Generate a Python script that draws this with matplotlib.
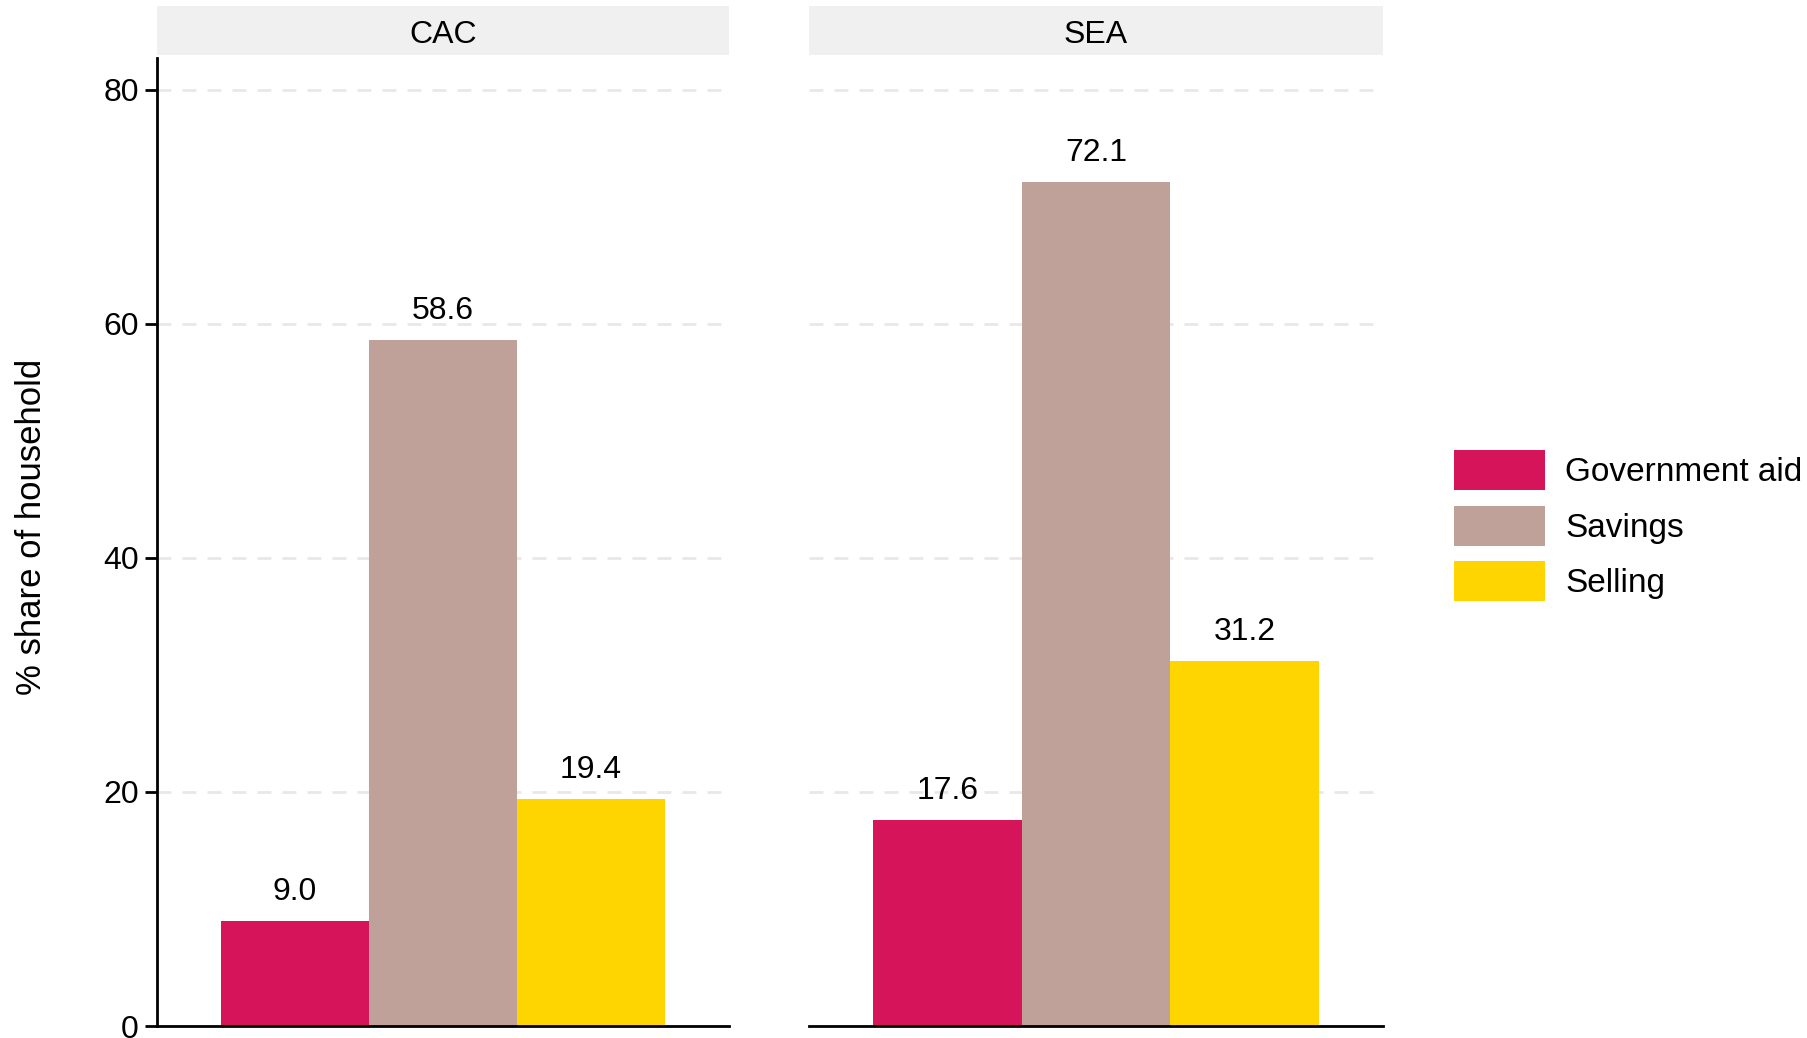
import matplotlib
matplotlib.use("Agg")
import matplotlib.pyplot as plt
from matplotlib import font_manager
from matplotlib.patches import Patch

# ---------------------------
# Data
# ---------------------------
regions = ["CAC", "SEA"]
sources = ["Government aid", "Savings", "Selling"]
gov_aid = [9.0, 17.6]
savings = [58.6, 72.1]
selling = [19.4, 31.2]
colors = ["#D6145A", "#BFA19A", "#FFD500"]

# pick a condensed font if available
names = {f.name for f in font_manager.fontManager.ttflist}
family = ["Liberation Sans Narrow", "DejaVu Sans"] if "Liberation Sans Narrow" in names else ["Liberation Sans", "DejaVu Sans"]
plt.rcParams["font.family"] = family

W, H = 1807, 1038
fig = plt.figure(figsize=(W / 100, H / 100), dpi=100)

panels = [(157, 729), (809, 1383)]
ax_top, ax_bot = 58, 1026
strip_top, strip_bot = 6, 55
FS = 23

values = list(zip(gov_aid, savings, selling))
bar_w = 0.3
offsets = [-bar_w, 0, bar_w]

for i, (region, (x0, x1)) in enumerate(zip(regions, panels)):
    ax = fig.add_axes([x0 / W, 1 - ax_bot / H, (x1 - x0) / W, (ax_bot - ax_top) / H])
    for j, v in enumerate(values[i]):
        ax.bar(offsets[j], v, width=bar_w, color=colors[j], zorder=2)
        ax.text(offsets[j], v + 1.2, f"{v:.1f}", ha="center", va="bottom", fontsize=FS)
    ax.set_xlim(-0.58, 0.58)
    ax.set_ylim(0, 82.7)
    ax.set_yticks([0, 20, 40, 60, 80])
    ax.yaxis.grid(True, color="#e8e8e8", linestyle=(0, (5, 4)), linewidth=2, zorder=0)
    ax.set_xticks([])
    for s in ["top", "right"]:
        ax.spines[s].set_visible(False)
    ax.spines["bottom"].set_linewidth(2)
    ax.spines["left"].set_linewidth(2)
    if i == 0:
        ax.tick_params(axis="y", length=9, width=2, labelsize=FS, pad=4)
    else:
        ax.spines["left"].set_visible(False)
        ax.tick_params(axis="y", length=0, labelleft=False)

    sax = fig.add_axes([x0 / W, 1 - strip_bot / H, (x1 - x0) / W, (strip_bot - strip_top) / H])
    sax.set_facecolor("#f0f0f0")
    sax.set_xticks([])
    sax.set_yticks([])
    for s in sax.spines.values():
        s.set_visible(False)
    sax.text(0.5, 0.40, region, ha="center", va="center", fontsize=FS, transform=sax.transAxes)

fig.text(32 / W, 1 - 527 / H, "% share of household", rotation=90, ha="center", va="center", fontsize=25)

handles = [Patch(facecolor=c, edgecolor="none") for c in colors]
fig.legend(handles, sources, loc="upper left", bbox_to_anchor=(1454 / W, 1 - 450 / H),
           frameon=False, fontsize=24, handlelength=2.74, handleheight=1.48,
           labelspacing=0.46, handletextpad=0.6, borderpad=0, borderaxespad=0)

plt.savefig("out.png", dpi=100)
plt.close()
